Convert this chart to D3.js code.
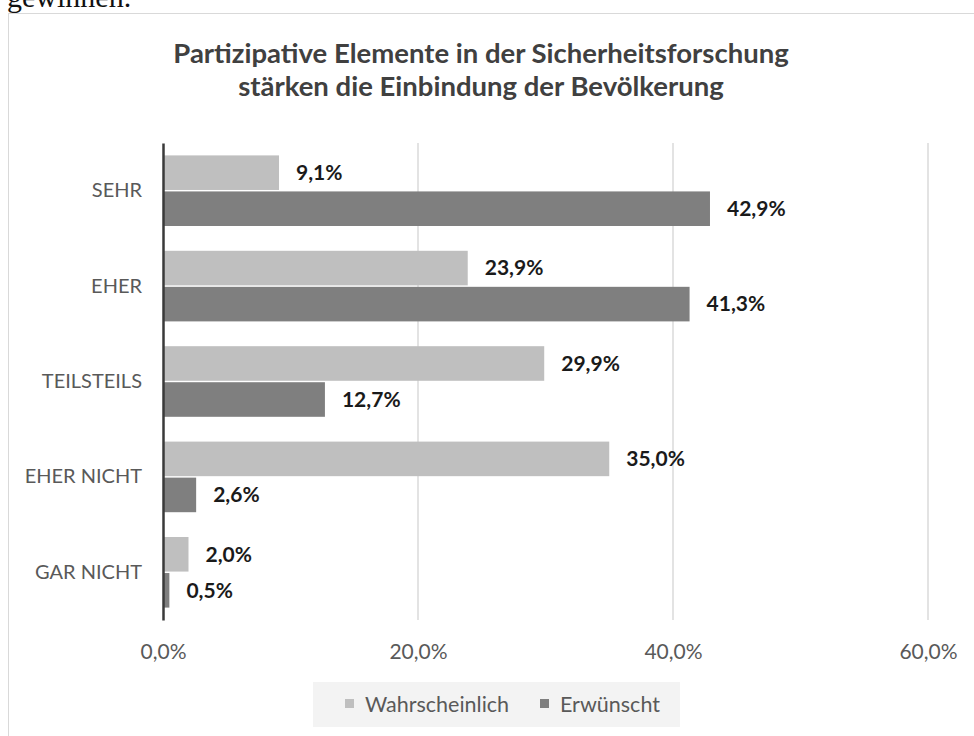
<!DOCTYPE html>
<html>
<head>
<meta charset="utf-8">
<script src="https://cdn.jsdelivr.net/npm/d3@7"></script>
<style>
  body { margin: 0; background: #fff; }
  svg { display: block; }
</style>
</head>
<body>
<div id="vis-container"></div>
<script>
// chart data
const categories = ["SEHR", "EHER", "TEILSTEILS", "EHER NICHT", "GAR NICHT"];
const seriesNames = ["Wahrscheinlich", "Erwünscht"];
const wahrscheinlich = [9.1, 23.9, 29.9, 35.0, 2.0];
const erwuenscht = [42.9, 41.3, 12.7, 2.6, 0.5];
const xTicks = [0, 20, 40, 60];
const titleLines = ["Partizipative Elemente in der Sicherheitsforschung",
                    "stärken die Einbindung der Bevölkerung"];

const width = 974;
const height = 736;
const colors = {"Wahrscheinlich": "#bfbfbf", "Erwünscht": "#7f7f7f"};
const fontFam = "Lato, 'Open Sans', sans-serif";

// german number format
const de = d3.formatLocale({decimal: ",", thousands: ".", grouping: [3], currency: ["", " €"]});
const pct = v => de.format(".1f")(v) + "%";

const rows = categories.map((c, i) => ({
  cat: c,
  values: [
    {key: "Wahrscheinlich", value: wahrscheinlich[i]},
    {key: "Erwünscht", value: erwuenscht[i]}
  ]
}));

const svg = d3.select("#vis-container")
  .append("svg")
  .attr("width", width)
  .attr("height", height);

// leftover text of the page above the chart (cut off like in the scan)
svg.append("text")
  .attr("x", 7)
  .attr("y", 7)
  .attr("font-family", "'Liberation Serif', serif")
  .attr("font-size", 30)
  .attr("fill", "#111")
  .text("gewinnen.");

// chart frame
svg.append("rect")
  .attr("x", 8.5)
  .attr("y", 13.5)
  .attr("width", width + 10)
  .attr("height", height)
  .attr("fill", "#fff")
  .attr("stroke", "#d9d9d9");

// title
svg.append("g")
  .selectAll("text")
  .data(titleLines)
  .join("text")
  .attr("x", 481)
  .attr("y", (d, i) => 63 + i * 33)
  .attr("text-anchor", "middle")
  .attr("font-family", fontFam)
  .attr("font-weight", "bold")
  .attr("font-size", 27.5)
  .attr("fill", "#404040")
  .text(d => d);

let xScale = d3.scaleLinear()
  .domain([0, 60])
  .range([163, 928]);

let yScale = d3.scaleBand()
  .domain(categories)
  .range([143, 620])
  .paddingInner(0.26)
  .paddingOuter(0.13);

let ySub = d3.scaleBand()
  .domain(seriesNames)
  .range([0, yScale.bandwidth()])
  .paddingInner(0.04);

// gridlines
svg.append("g")
  .selectAll("line")
  .data(xTicks.slice(1))
  .join("line")
  .attr("x1", d => xScale(d))
  .attr("x2", d => xScale(d))
  .attr("y1", 143)
  .attr("y2", 620)
  .attr("stroke", "#d0d0d0")
  .attr("stroke-width", 1.2);

// x axis labels
const xAxis = svg.append("g")
  .attr("transform", "translate(0,620)")
  .call(d3.axisBottom(xScale).tickValues(xTicks).tickFormat(pct).tickSize(0).tickPadding(24));
xAxis.select(".domain").remove();
xAxis.selectAll("text")
  .attr("font-family", fontFam)
  .attr("font-size", 21)
  .attr("fill", "#595959");

// bars
const groups = svg.append("g")
  .selectAll("g")
  .data(rows)
  .join("g")
  .attr("transform", d => `translate(0,${yScale(d.cat)})`);

groups.selectAll("rect")
  .data(d => d.values)
  .join("rect")
  .attr("x", xScale(0))
  .attr("y", d => ySub(d.key))
  .attr("width", d => xScale(d.value) - xScale(0))
  .attr("height", ySub.bandwidth())
  .attr("fill", d => colors[d.key]);

groups.selectAll("text")
  .data(d => d.values)
  .join("text")
  .attr("x", d => xScale(d.value) + 17)
  .attr("y", d => ySub(d.key) + ySub.bandwidth() / 2)
  .attr("dy", "0.35em")
  .attr("font-family", fontFam)
  .attr("font-weight", "bold")
  .attr("font-size", 21)
  .attr("fill", "#1a1a1a")
  .text(d => pct(d.value));

// y axis
const yAxis = svg.append("g")
  .attr("transform", `translate(${xScale(0)},0)`)
  .call(d3.axisLeft(yScale).tickSize(0).tickPadding(21));
yAxis.select(".domain")
  .attr("stroke", "#3a3a3a")
  .attr("stroke-width", 2.5);
yAxis.selectAll("text")
  .attr("font-family", fontFam)
  .attr("font-size", 20)
  .attr("fill", "#595959");

// legend
const legend = svg.append("g");
legend.append("rect")
  .attr("x", 313)
  .attr("y", 682)
  .attr("width", 367)
  .attr("height", 45)
  .attr("fill", "#f3f3f3");

const legendX = [345, 540];
const items = legend.selectAll("g")
  .data(seriesNames)
  .join("g")
  .attr("transform", (d, i) => `translate(${legendX[i]},704)`);
items.append("rect")
  .attr("x", 0)
  .attr("y", -5)
  .attr("width", 9)
  .attr("height", 9)
  .attr("fill", d => colors[d]);
items.append("text")
  .attr("x", 20)
  .attr("y", 0)
  .attr("dy", "0.35em")
  .attr("font-family", fontFam)
  .attr("font-size", 21.5)
  .attr("fill", "#595959")
  .text(d => d);
</script>
</body>
</html>
